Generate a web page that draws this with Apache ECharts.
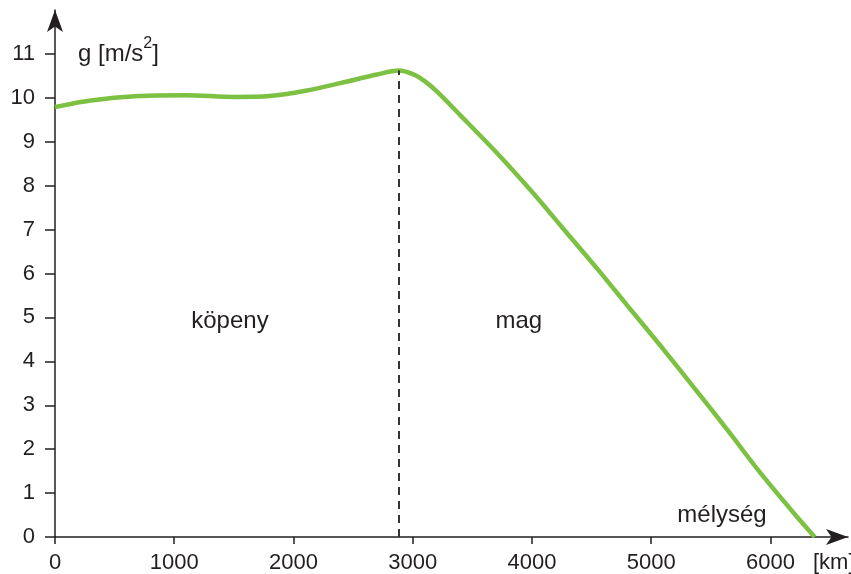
<!DOCTYPE html>
<html>
<head>
<meta charset="utf-8">
<script src="https://cdn.jsdelivr.net/npm/echarts@6/dist/echarts.min.js"></script>
<style>html,body{margin:0;padding:0;background:#fff}#c{width:851px;height:574px}</style>
</head>
<body>
<div id="c"></div>
<script>
// depth [km] and gravity g [m/s^2]
const depthKm = [0, 300, 700, 1100, 1500, 1800, 2100, 2400, 2700, 2880, 3000, 3100, 3200, 3400, 3700, 4000, 4250, 4550, 4800, 5100, 5350, 5650, 5900, 6200, 6371];
const gravity = [9.79, 9.94, 10.04, 10.06, 10.02, 10.04, 10.16, 10.34, 10.53, 10.62, 10.54, 10.38, 10.15, 9.60, 8.76, 7.86, 7.06, 6.10, 5.27, 4.28, 3.43, 2.40, 1.51, 0.53, 0];
const xTicks = [0, 1000, 2000, 3000, 4000, 5000, 6000];
const yTicks = [0, 1, 2, 3, 4, 5, 6, 7, 8, 9, 10, 11];
const boundaryKm = 2880;
const boundaryG = 10.62;
const regionLabels = [
  {text: 'köpeny', x: 1467, y: 4.91},
  {text: 'mag', x: 3889, y: 4.91}
];

const chart = echarts.init(document.getElementById('c'));
const ink = '#231f20';
const font = 'Liberation Sans, Arial, sans-serif';

const option = {
  animation: false,
  grid: {left: 55, right: 3, top: 10, bottom: 36},
  xAxis: {
    type: 'value', min: 0, max: 6650,
    splitLine: {show: false},
    axisLine: {lineStyle: {color: ink, width: 1.5}, symbol: ['none', 'arrow'], symbolSize: [12, 22]},
    axisTick: {show: true, length: 7, lineStyle: {color: ink, width: 1.5}, customValues: xTicks},
    axisLabel: {customValues: xTicks, color: ink, fontSize: 22, fontFamily: font, margin: 15,
      formatter: v => String(v)}
  },
  yAxis: {
    type: 'value', min: 0, max: 12,
    splitLine: {show: false},
    axisLine: {show: true, lineStyle: {color: ink, width: 1.5}, symbol: ['none', 'arrow'], symbolSize: [12, 22]},
    axisTick: {show: true, length: 10, lineStyle: {color: ink, width: 1.5}, customValues: yTicks},
    axisLabel: {customValues: yTicks, color: ink, fontSize: 22, fontFamily: font, margin: 20,
      formatter: v => String(v)}
  },
  series: [{
    type: 'line',
    data: depthKm.map((d, i) => [d, gravity[i]]),
    smooth: 0.3,
    showSymbol: false,
    lineStyle: {color: '#7cc142', width: 4.5},
    markLine: {
      silent: true, symbol: 'none',
      lineStyle: {color: '#333', width: 2, type: [8, 6]},
      label: {show: false},
      data: [[{coord: [boundaryKm, 0]}, {coord: [boundaryKm, boundaryG]}]]
    },
    z: 3
  }, {
    type: 'scatter',
    data: regionLabels.map(r => [r.x, r.y]),
    symbolSize: 1,
    itemStyle: {opacity: 0},
    label: {
      show: true, position: 'inside',
      formatter: p => regionLabels[p.dataIndex].text,
      color: ink, fontSize: 24, fontFamily: font, opacity: 1
    }
  }],
  graphic: [
    {type: 'text', left: 78, top: 36, style: {
      text: '{a|g [m/s}{s|2}{a|]}',
      rich: {
        a: {fontSize: 24, fontFamily: font, fill: ink, verticalAlign: 'bottom', lineHeight: 30},
        s: {fontSize: 16, fontFamily: font, fill: ink, verticalAlign: 'top', lineHeight: 30, padding: [0,0,6,0]}
      }
    }},
    {type: 'text', x: 722, y: 515, style: {text: 'mélység', fontSize: 24, fontFamily: font, fill: ink, textAlign: 'center', textVerticalAlign: 'middle'}},
    {type: 'text', left: 813, top: 552, style: {text: '[km]', fontSize: 22, fontFamily: font, fill: ink}}
  ]
};
chart.setOption(option);
</script>
</body>
</html>
